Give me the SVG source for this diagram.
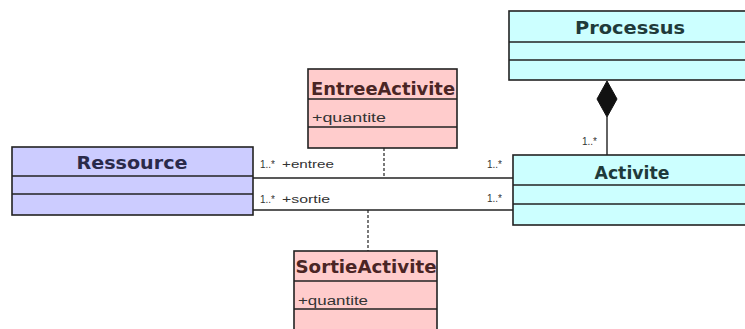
<svg xmlns="http://www.w3.org/2000/svg" width="745" height="329" viewBox="0 0 745 329">
<style>
.box{stroke:#222;stroke-width:1.6}
.sep{stroke:#222;stroke-width:1.6}
.title{font-family:"DejaVu Sans","Liberation Sans",Arial,sans-serif;font-weight:bold;font-size:17px;text-anchor:middle}
.attr{font-family:"Liberation Sans",Arial,sans-serif;font-size:12px;fill:#333}
.lbl{font-family:"Liberation Sans",Arial,sans-serif;font-size:10px;fill:#333}
.conn{stroke:#222;stroke-width:1.4;fill:none}
.dash{stroke:#222;stroke-width:1.2;stroke-dasharray:3,2;fill:none}
</style>
<rect width="745" height="329" fill="#ffffff"/>
<g id="connectors">
<line class="conn" x1="253" y1="178" x2="513" y2="178"/>
<line class="conn" x1="253" y1="210" x2="513" y2="210"/>
<line class="dash" x1="384" y1="148" x2="384" y2="178"/>
<line class="dash" x1="368" y1="210" x2="368" y2="251"/>
<line class="conn" x1="607" y1="117" x2="607" y2="155"/>
<polygon points="607,81 617,99 607,117 597,99" fill="#111" stroke="#111"/>
<text class="lbl" x="260" y="168">1..*</text>
<text class="lbl" x="282" y="168" textLength="52" lengthAdjust="spacingAndGlyphs">+entree</text>
<text class="lbl" x="260" y="203">1..*</text>
<text class="lbl" x="282" y="203" textLength="48" lengthAdjust="spacingAndGlyphs">+sortie</text>
<text class="lbl" x="487" y="168">1..*</text>
<text class="lbl" x="487" y="202">1..*</text>
<text class="lbl" x="582" y="145">1..*</text>
</g>
<g id="Processus">
<rect class="box" x="509" y="11" width="245" height="69" fill="#ccffff"/>
<line class="sep" x1="509" y1="42" x2="745" y2="42"/>
<line class="sep" x1="509" y1="60" x2="745" y2="60"/>
<text class="title" x="630" y="34" fill="#1f3a3a" textLength="110" lengthAdjust="spacingAndGlyphs">Processus</text>
</g>
<g id="Activite">
<rect class="box" x="513" y="155" width="245" height="70" fill="#ccffff"/>
<line class="sep" x1="513" y1="185" x2="745" y2="185"/>
<line class="sep" x1="513" y1="204" x2="745" y2="204"/>
<text class="title" x="632" y="179" fill="#1f3a3a" textLength="75" lengthAdjust="spacingAndGlyphs">Activite</text>
</g>
<g id="Ressource">
<rect class="box" x="12" y="147" width="241" height="68" fill="#ccccff"/>
<line class="sep" x1="12" y1="176" x2="253" y2="176"/>
<line class="sep" x1="12" y1="194" x2="253" y2="194"/>
<text class="title" x="132" y="169" fill="#2a2a4a" textLength="111" lengthAdjust="spacingAndGlyphs">Ressource</text>
</g>
<g id="EntreeActivite">
<rect class="box" x="308" y="69" width="149" height="79" fill="#ffcccc"/>
<line class="sep" x1="308" y1="99" x2="457" y2="99"/>
<line class="sep" x1="308" y1="127" x2="457" y2="127"/>
<text class="title" x="383" y="95" fill="#4a2525" textLength="144" lengthAdjust="spacingAndGlyphs">EntreeActivite</text>
<text class="attr" x="312" y="122" textLength="74" lengthAdjust="spacingAndGlyphs">+quantite</text>
</g>
<g id="SortieActivite">
<rect class="box" x="294" y="251" width="143" height="85" fill="#ffcccc"/>
<line class="sep" x1="294" y1="281" x2="437" y2="281"/>
<line class="sep" x1="294" y1="309" x2="437" y2="309"/>
<text class="title" x="366" y="273" fill="#4a2525" textLength="141" lengthAdjust="spacingAndGlyphs">SortieActivite</text>
<text class="attr" x="298" y="305" textLength="70" lengthAdjust="spacingAndGlyphs">+quantite</text>
</g>
</svg>
